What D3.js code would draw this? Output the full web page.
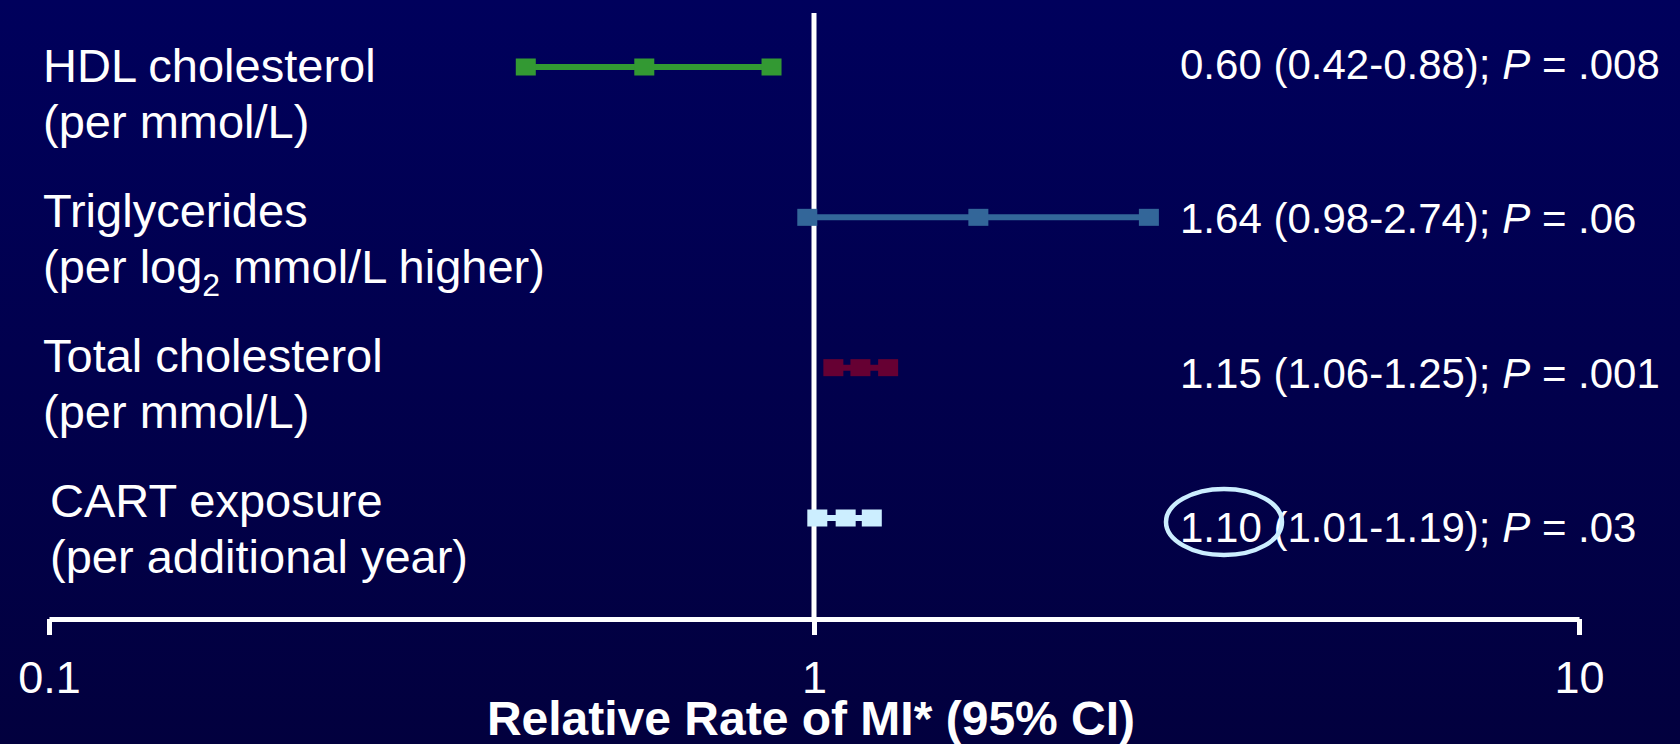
<!DOCTYPE html>
<html>
<head>
<meta charset="utf-8">
<script src="https://cdn.jsdelivr.net/npm/d3@7"></script>
<style>
  html, body { margin: 0; padding: 0; background: #00004c; }
  svg { display: block; font-family: "Liberation Sans", Arial, sans-serif; }
</style>
</head>
<body>
<div id="chart"></div>
<script>
const categories = ["HDL cholesterol", "Triglycerides", "Total cholesterol", "CART exposure"];
const subLabels = ["(per mmol/L)", "(per log_2 mmol/L higher)", "(per mmol/L)", "(per additional year)"];
const estimates = [0.60, 1.64, 1.15, 1.10];
const lower = [0.42, 0.98, 1.06, 1.01];
const upper = [0.88, 2.74, 1.25, 1.19];
const pValues = [".008", ".06", ".001", ".03"];
const tickValues = [0.1, 1, 10];
const colors = ["#339933", "#336699", "#660033", "#cceeff"];
const highlighted = "CART exposure";

const width = 1680, height = 744;

const svg = d3.select("#chart")
    .append("svg")
    .attr("width", width)
    .attr("height", height);

// background
const grad = svg.append("defs").append("linearGradient")
    .attr("id", "bg").attr("x1", 0).attr("y1", 0).attr("x2", 0).attr("y2", 1);
grad.append("stop").attr("offset", "0%").attr("stop-color", "#00005c");
grad.append("stop").attr("offset", "100%").attr("stop-color", "#02003e");
svg.append("rect").attr("width", width).attr("height", height).attr("fill", "url(#bg)");

const x = d3.scaleLog().domain([0.1, 10]).range([49, 1579]);
const yMark = d3.scalePoint().domain(categories).range([67, 518]);
const yLabel = d3.scalePoint().domain(categories).range([82, 517]);
const yText = d3.scalePoint().domain(categories).range([79, 542]);
const axisY = 619;

// x axis
const axis = svg.append("g")
    .attr("transform", `translate(0,${axisY})`)
    .call(d3.axisBottom(x).tickValues(tickValues).tickFormat(d3.format("")).tickSize(16).tickSizeOuter(0).tickPadding(26));
axis.select(".domain").attr("stroke", "#fff").attr("stroke-width", 5);
axis.selectAll(".tick line").attr("stroke", "#fff").attr("stroke-width", 5);
axis.selectAll(".tick text")
    .attr("fill", "#fff")
    .attr("font-size", 45)
    .attr("font-family", "Liberation Sans, Arial, sans-serif");

svg.append("text")
    .attr("x", 811)
    .attr("y", 735)
    .attr("text-anchor", "middle")
    .attr("fill", "#fff")
    .attr("font-size", 48)
    .attr("font-weight", "bold")
    .text("Relative Rate of MI* (95% CI)");

// reference line at 1
svg.append("line")
    .attr("x1", x(1)).attr("x2", x(1))
    .attr("y1", 13).attr("y2", axisY)
    .attr("stroke", "#fff")
    .attr("stroke-width", 5);

// left labels
const labels = svg.selectAll(".label")
    .data(categories)
    .join("text")
    .attr("class", "label")
    .attr("fill", "#fff")
    .attr("font-size", 47)
    .attr("y", d => yLabel(d));

labels.append("tspan")
    .attr("x", (d, i) => i === 3 ? 50 : 43)
    .text(d => d);

labels.each(function (d, i) {
    const line = d3.select(this).append("tspan")
        .attr("x", i === 3 ? 50 : 43)
        .attr("dy", 56);
    const parts = subLabels[i].split(/_(\d)/);
    parts.forEach((p, j) => {
        if (j % 2 === 1) {
            line.append("tspan").attr("font-size", 32).attr("dy", 13).text(p);
        } else if (j > 0) {
            line.append("tspan").attr("dy", -13).text(p);
        } else {
            line.append("tspan").text(p);
        }
    });
});

// CI lines and markers
const rows = svg.selectAll(".row")
    .data(categories)
    .join("g")
    .attr("class", "row");

rows.append("line")
    .attr("x1", (d, i) => x(lower[i]))
    .attr("x2", (d, i) => x(upper[i]))
    .attr("y1", d => yMark(d))
    .attr("y2", d => yMark(d))
    .attr("stroke", (d, i) => colors[i])
    .attr("stroke-width", 6);

rows.selectAll("rect")
    .data((d, i) => [lower[i], estimates[i], upper[i]].map(v => ({ cat: d, v: v, c: colors[i] })))
    .join("rect")
    .attr("x", d => x(d.v) - 10)
    .attr("y", d => yMark(d.cat) - 8.5)
    .attr("width", 20)
    .attr("height", 17)
    .attr("fill", d => d.c);

// right estimates text
const est = svg.selectAll(".est")
    .data(categories)
    .join("text")
    .attr("class", "est")
    .attr("x", 1180)
    .attr("y", d => yText(d))
    .attr("fill", "#fff")
    .attr("font-size", 42)
    .attr("xml:space", "preserve");

est.append("tspan").text((d, i) => `${estimates[i].toFixed(2)} (${lower[i].toFixed(2)}-${upper[i].toFixed(2)}); `);
est.append("tspan").attr("font-style", "italic").text("P");
est.append("tspan").text((d, i) => ` = ${pValues[i]}`);

// highlight circle around CART estimate
svg.append("ellipse")
    .attr("cx", 1224)
    .attr("cy", yText(highlighted) - 20)
    .attr("rx", 58)
    .attr("ry", 33)
    .attr("fill", "none")
    .attr("stroke", "#cceeff")
    .attr("stroke-width", 4.5);
</script>
</body>
</html>
